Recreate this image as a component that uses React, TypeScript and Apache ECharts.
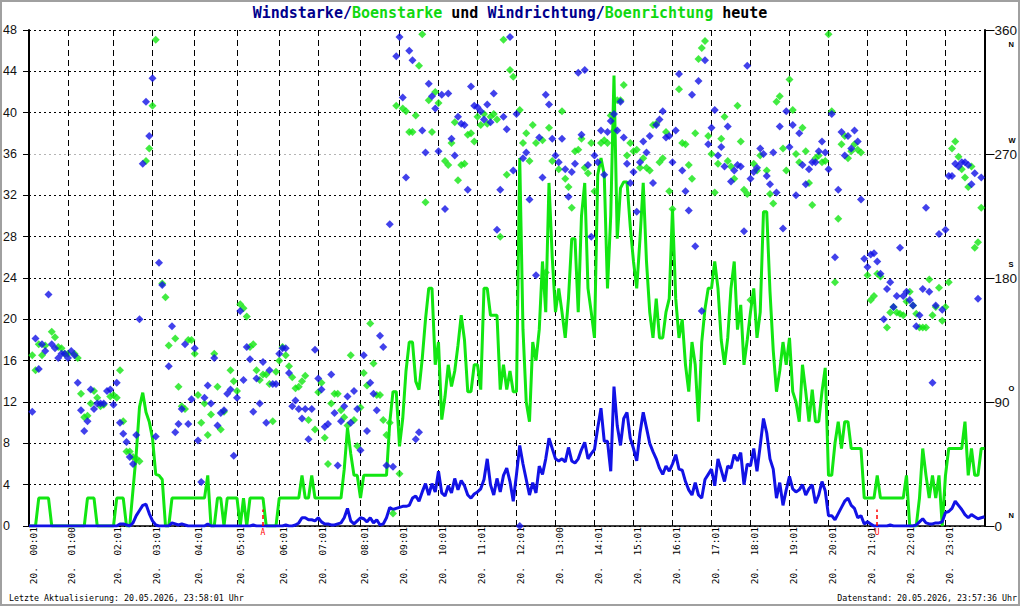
import React, { useEffect, useRef } from 'react';
import * as echarts from 'echarts';

// Sample positions (5-minute samples, index 0..294) where the hour labels sit
const hourIndex = [0, 12, 26, 38, 51, 64, 77, 89, 102, 114, 126, 138, 150, 162, 174, 186, 198, 210, 222, 234, 246, 258, 270, 282];
const hourLabels = [
  '20.  00:01', '20.  01:00', '20.  02:01', '20.  03:01', '20.  04:01', '20.  05:01', '20.  06:01', '20.  07:01',
  '20.  08:01', '20.  09:01', '20.  10:01', '20.  11:01', '20.  12:01', '20.  13:00', '20.  14:01', '20.  15:01',
  '20.  16:01', '20.  17:01', '20.  18:01', '20.  19:01', '20.  20:01', '20.  21:01', '20.  22:01', '20.  23:01',
];

// Windstärke (km/h), one value per sample
const wind = [
  0, 0, 0, 0, 0, 0, 0, 0, 0, 0,
  0, 0, 0, 0, 0, 0, 0, 0, 0, 0,
  0, 0, 0, 0, 0, 0, 0, 0, 0.2, 0.2,
  0.1, 0, 0.3, 1.0, 1.5, 2.0, 2.1, 1.2, 0.5, 0.1,
  0, 0, 0, 0, 0.3, 0.2, 0.1, 0.2, 0.1, 0,
  0, 0, 0, 0, 0, 0.2, 0, 0, 0, 0,
  0, 0, 0, 0, 0, 0, 0, 0, 0, 0.1,
  0, 0, 0, 0, 0, 0, 0, 0, 0, 0.1,
  0, 0, 0.1, 0.3, 0.8, 0.8, 0.6, 0.6, 0.5, 0.8,
  0.4, 0.2, 0.2, 0.1, 0.1, 0.2, 0.3, 0.8, 1.7, 0.5,
  0.2, 0.5, 0.8, 0.7, 0.4, 0.8, 0.3, 0.6, 0.1, 0.2,
  0.8, 1.8, 1.6, 1.7, 1.8, 1.9, 1.9, 2.0, 2.7, 2.9,
  2.4, 3.3, 4.1, 3.0, 4.1, 3.3, 5.3, 3.2, 2.9, 3.9,
  3.2, 4.6, 3.5, 4.4, 3.9, 3.0, 2.7, 3.1, 3.3, 3.6,
  4.5, 6.5, 4.0, 3.0, 4.6, 3.3, 4.9, 5.6, 4.3, 2.4,
  5.0, 7.8, 6.0, 4.5, 3.0, 4.2, 3.2, 5.8, 5.0, 6.5,
  8.5, 7.5, 6.5, 6.3, 6.5, 6.2, 7.6, 6.3, 6.1, 6.5,
  7.4, 8.1, 6.5, 7.0, 7.4, 9.5, 11.4, 8.2, 8.2, 5.3,
  13.5, 9.7, 7.8, 10.4, 11.0, 8.5, 7.5, 6.3, 9.0, 11.0,
  9.5, 8.0, 7.2, 6.5, 5.6, 5.0, 5.8, 5.3, 6.0, 6.9,
  5.5, 5.4, 4.3, 3.5, 3.0, 4.2, 3.0, 2.7, 4.5, 5.0,
  5.5, 3.9, 6.5, 5.4, 4.3, 5.8, 5.6, 6.9, 6.3, 7.1,
  4.0, 6.0, 5.8, 7.5, 5.3, 7.8, 10.4, 9.0, 6.5, 5.5,
  2.7, 4.2, 2.0, 3.5, 4.8, 3.6, 3.3, 3.5, 4.0, 3.0,
  3.6, 4.0, 2.2, 3.0, 4.3, 3.4, 1.0, 1.0, 0.6, 1.2,
  1.8, 2.4, 2.7, 2.0, 1.7, 0.8, 1.0, 0.2, 0.4, 0.2,
  0, 0, 0, 0, 0, 0.1, 0, 0, 0, 0,
  0, 0, 0, 0.1, 0.4, 0.7, 0.3, 0.2, 0.2, 0.3,
  0.3, 0.4, 1.3, 1.4, 1.7, 2.4, 2.0, 1.6, 1.1, 0.8,
  1.1, 0.9, 0.7, 0.8, 0.9,
];

// Böenstärke (km/h), one value per sample
const gust = [
  0, 0, 0, 2.7, 2.7, 2.7, 2.7, 0, 0, 0,
  0, 0, 0, 0, 0, 0, 0, 0, 2.7, 2.7,
  2.7, 0, 0, 0, 0, 0, 0, 2.7, 2.7, 2.7,
  0, 0, 3.5, 7, 11.5, 12.9, 11, 10.1, 8.5, 5,
  4.9, 4.5, 0, 0, 2.7, 2.7, 2.7, 2.7, 2.7, 2.7,
  2.7, 2.7, 2.7, 2.7, 2.7, 4.9, 0, 0, 2.7, 2.7,
  0, 2.7, 2.7, 2.7, 2.7, 0, 2.7, 0, 2.7, 2.7,
  2.7, 2.7, 2.7, 0, 0, 0, 0, 2.7, 2.7, 2.7,
  2.7, 2.7, 2.7, 2.7, 4.9, 2.7, 2.7, 4.9, 2.7, 2.7,
  2.7, 2.7, 2.7, 2.7, 2.7, 2.7, 2.7, 5.5, 9.5, 7,
  4.9, 4.9, 2.7, 4.9, 4.9, 4.9, 4.9, 4.9, 4.9, 4.9,
  4.9, 10, 13, 13, 7.7, 10.4, 15, 17.8, 17.8, 14,
  13.2, 16.2, 20, 23, 23, 15.6, 17.8, 10.3, 12.5, 15.6,
  13.5, 15, 17.5, 20.4, 18, 13, 13, 15.6, 15.6, 13.2,
  23, 23, 20.4, 20.4, 20.4, 13.2, 15.6, 13.2, 15, 13,
  13, 35.6, 19, 12, 10.1, 17.8, 16, 19, 25.6, 20.7,
  33.2, 26, 20.7, 23, 20.7, 18.2, 22, 27.8, 27.8, 20.7,
  30, 33.2, 23, 20.7, 18.2, 34, 35.6, 34, 23, 30,
  43.6, 27.8, 32.7, 33.3, 33.3, 29, 25.6, 23, 27.8, 33.2,
  25.6, 20.7, 18.2, 22, 18.2, 18.2, 20.7, 22, 30.7, 22,
  18.2, 20, 15.6, 13, 17.8, 15.6, 10.1, 17.8, 21, 23,
  23, 25.6, 23, 18, 15.6, 18.2, 23, 25.6, 19, 21.4,
  15.6, 18, 20.7, 23, 18.2, 20.7, 30.4, 30.4, 22.7, 17,
  13, 15, 17.8, 15.6, 18.2, 13, 12, 10.1, 15.6, 13,
  10.1, 13.2, 10.1, 10.1, 13, 15.3, 4.9, 4.9, 8, 10.1,
  7.5, 10.1, 10.1, 7.5, 7.5, 7.5, 7.5, 2.7, 2.7, 2.7,
  2.7, 4.9, 2.7, 2.7, 2.7, 2.7, 2.7, 2.7, 2.7, 2.7,
  4.9, 0, 0, 0, 2.7, 7.5, 4.9, 2.7, 4.9, 2.7,
  4.9, 0, 4.9, 7.5, 7.5, 7.5, 7.5, 7.5, 10.1, 4.9,
  7.5, 4.9, 4.9, 7.5, 7.5,
];

// Windrichtung: [sample index, degrees]
const windDir = [
  [1, 83], [2, 136], [3, 114], [4, 132], [5, 127], [6, 168], [7, 132], [8, 129], [9, 122], [10, 125], [11, 125], [12, 122], [13, 127], [14, 124], [15, 104], [16, 84], [17, 69], [18, 76], [19, 99], [20, 85], [21, 89], [22, 89], [23, 89], [24, 98], [25, 99], [26, 88], [27, 104], [28, 75], [29, 67], [30, 61], [31, 50], [32, 45], [33, 66], [34, 150], [35, 263], [36, 308], [37, 283], [38, 325], [39, 65], [40, 191], [41, 175], [43, 116], [44, 145], [45, 68], [46, 74], [47, 85], [48, 132], [49, 74], [50, 92],
  [51, 129], [52, 62], [53, 32], [54, 93], [55, 102], [56, 89], [57, 122], [58, 73], [59, 82], [60, 84], [61, 96], [62, 99], [63, 51], [64, 93], [65, 156], [66, 106], [67, 130], [68, 121], [69, 83], [70, 107], [71, 89], [72, 119], [73, 75], [74, 113], [75, 103], [76, 103], [77, 125], [78, 129], [79, 129], [80, 111], [81, 87], [82, 91], [83, 85], [84, 78], [85, 85], [86, 63], [87, 85], [88, 128], [89, 107], [90, 99], [91, 72], [92, 74], [93, 110], [94, 82], [95, 44], [96, 76], [97, 87], [98, 94], [99, 75],
  [100, 98], [101, 85], [102, 55], [103, 124], [104, 69], [105, 104], [106, 96], [107, 84], [108, 138], [109, 130], [110, 44], [111, 219], [112, 43], [113, 341], [114, 355], [115, 311], [116, 253], [117, 345], [118, 338], [119, 63], [120, 68], [121, 287], [122, 271], [123, 321], [124, 312], [125, 303], [126, 272], [127, 313], [128, 230], [129, 314], [130, 281], [131, 269], [132, 297], [133, 292], [134, 291], [135, 244], [136, 319], [137, 305], [138, 304], [139, 301], [140, 295], [141, 306], [142, 293], [143, 314], [144, 215], [145, 244], [146, 297], [147, 288], [148, 355],
  [149, 258], [150, 299], [151, 0], [152, 267], [153, 271], [154, 237], [156, 182], [157, 282], [158, 253], [159, 313], [160, 306], [161, 281], [162, 269], [163, 264], [164, 281], [165, 259], [166, 239], [167, 257], [168, 263], [169, 329], [170, 284], [171, 331], [172, 262], [173, 210], [174, 269], [175, 264], [176, 287], [177, 255], [178, 286], [179, 294], [180, 299], [181, 287], [182, 308], [183, 282], [184, 263], [185, 249], [186, 257], [187, 228], [188, 264], [189, 279], [190, 271], [191, 283], [192, 249], [193, 291], [194, 295], [195, 301], [196, 282],
  [197, 283], [198, 264], [199, 287], [200, 328], [201, 258], [202, 243], [203, 229], [204, 313], [205, 203], [206, 323], [207, 156], [208, 338], [209, 277], [210, 289], [211, 302], [212, 269], [213, 275], [214, 261], [215, 290], [216, 250], [217, 258], [218, 262], [219, 261], [220, 214], [221, 334], [222, 252], [223, 257], [224, 260], [225, 274], [226, 270], [227, 254], [228, 248], [229, 271], [230, 242], [231, 290], [232, 216], [233, 301], [234, 275], [235, 291], [236, 240], [237, 285], [238, 262], [239, 248], [240, 259], [241, 264], [242, 264], [243, 272], [244, 279], [245, 271], [246, 259],
  [247, 299], [248, 195], [249, 244], [250, 286], [251, 269], [252, 283], [253, 274], [254, 287], [255, 279], [256, 237], [257, 194], [258, 188], [259, 197], [260, 198], [261, 192], [262, 183], [263, 150], [264, 172], [265, 177], [266, 159], [267, 167], [268, 202], [269, 167], [270, 170], [271, 164], [272, 160], [273, 145], [274, 153], [275, 172], [276, 231], [277, 170], [278, 104], [279, 160], [280, 212], [281, 157], [282, 215], [283, 254], [284, 254], [285, 263], [286, 261], [287, 264], [288, 264], [289, 262], [290, 248], [291, 256], [292, 165], [293, 253],
];

// Böenrichtung: [sample index, degrees]
const gustDir = [
  [1, 124], [2, 113], [3, 132], [4, 124], [5, 131], [7, 141], [8, 137], [9, 130], [10, 129], [11, 125], [12, 125], [14, 125], [15, 122], [16, 96], [17, 79], [18, 80], [19, 89], [20, 98], [21, 93], [22, 87], [23, 88], [25, 94], [26, 95], [27, 93], [28, 113], [29, 76], [30, 54], [31, 54], [32, 50], [33, 49], [34, 47], [36, 265], [37, 274], [38, 305], [39, 353], [41, 176], [42, 166], [43, 131], [45, 136], [46, 101], [47, 87], [48, 85], [49, 135], [50, 135],
  [51, 125], [52, 95], [53, 75], [54, 89], [55, 66], [56, 81], [57, 125], [58, 101], [59, 70], [60, 83], [62, 113], [63, 105], [64, 98], [65, 161], [66, 158], [67, 152], [68, 130], [69, 132], [70, 113], [71, 106], [72, 110], [73, 110], [74, 103], [75, 76], [76, 112], [77, 120], [78, 130], [79, 124], [80, 116], [81, 108], [82, 100], [83, 101], [84, 105], [85, 109], [86, 77], [88, 70], [89, 97], [90, 104], [91, 64], [92, 45], [93, 89], [94, 96], [95, 96], [96, 84], [97, 79], [98, 73],
  [99, 124], [100, 77], [101, 58], [102, 86], [103, 111], [104, 102], [105, 147], [106, 118], [107, 95], [108, 95], [109, 77], [110, 66], [111, 75], [112, 9], [113, 305], [114, 38], [115, 303], [116, 301], [117, 286], [118, 286], [119, 298], [120, 334], [121, 357], [122, 235], [123, 309], [124, 286], [125, 315], [126, 307], [128, 265], [129, 262], [130, 278], [131, 293], [132, 251], [133, 262], [134, 263], [135, 284], [136, 285], [137, 279], [138, 297], [139, 291], [140, 299], [141, 292], [142, 297], [143, 299], [144, 295], [145, 210], [146, 353], [147, 255], [148, 331],
  [149, 326], [151, 302], [152, 278], [153, 285], [154, 265], [155, 291], [156, 278], [158, 280], [159, 184], [160, 289], [161, 265], [163, 259], [164, 301], [165, 252], [166, 246], [167, 231], [168, 272], [169, 273], [170, 281], [171, 260], [172, 256], [173, 278], [174, 243], [176, 278], [177, 280], [178, 278], [179, 298], [180, 287], [181, 309], [182, 309], [183, 320], [184, 269], [185, 278], [186, 272], [187, 273], [188, 260], [189, 267], [190, 260], [191, 258], [192, 291], [193, 292], [194, 264], [195, 267], [196, 286], [197, 243],
  [198, 230], [200, 317], [201, 278], [202, 277], [203, 262], [204, 252], [205, 285], [206, 339], [207, 347], [208, 352], [209, 283], [210, 270], [211, 242], [212, 263], [213, 281], [214, 297], [215, 265], [216, 261], [217, 252], [218, 305], [219, 279], [220, 244], [221, 241], [222, 164], [223, 263], [224, 258], [225, 269], [227, 258], [228, 241], [229, 234], [230, 308], [231, 312], [232, 274], [233, 258], [234, 324], [235, 302], [236, 270], [237, 264], [238, 289], [239, 272], [240, 249], [241, 233], [242, 267], [243, 269], [244, 264], [245, 265], [246, 357],
  [247, 301], [248, 177], [249, 223], [250, 277], [251, 283], [252, 267], [253, 272], [254, 277], [255, 273], [256, 271], [258, 182], [259, 164], [260, 167], [261, 183], [262, 181], [264, 144], [265, 155], [266, 159], [267, 155], [268, 154], [269, 153], [270, 163], [271, 170], [272, 160], [273, 154], [274, 144], [275, 144], [276, 144], [277, 179], [278, 153], [279, 159], [280, 173], [281, 149], [282, 159], [283, 177], [284, 274], [285, 279], [286, 268], [287, 259], [288, 253], [289, 246], [290, 261], [291, 202], [292, 206], [293, 231],
];

// Sonnenaufgang (A) and Sonnenuntergang (U) markers
const sunMarks = [
  { index: 72, label: 'A' },
  { index: 261, label: 'U' },
];

const compassLetters: Record<number, string> = { 0: 'N', 90: 'O', 180: 'S', 270: 'W', 360: 'N' };

const BLUE = '#1212e6';
const GREEN = '#12e612';
const MONO = '"DejaVu Sans Mono", "Liberation Mono", monospace';
const SANS = '"Liberation Sans", Arial, sans-serif';

function buildOption() {
  const categories = wind.map((_, i) => String(i));
  const hourSet = new Set(hourIndex);
  const labelAt = new Map(hourIndex.map((idx, k) => [idx, hourLabels[k]]));
  const isHour = (i: number) => hourSet.has(i);

  // split line colours for the left axis, 0..48 step 4 (the 36 line is grey)
  const hLineColors = [0, 4, 8, 12, 16, 20, 24, 28, 32, 36, 40, 44, 48].map((v) => (v === 36 ? '#b4b4b4' : '#000'));

  return {
    animation: false,
    backgroundColor: '#fff',
    title: [
      {
        text: '{b|Windstarke/}{g|Boenstarke}{k| und }{b|Windrichtung/}{g|Boenrichtung}{k| heute}',
        left: 'center',
        top: 0,
        textStyle: {
          fontFamily: MONO,
          fontSize: 15,
          rich: {
            b: { color: '#00008c', fontFamily: MONO, fontSize: 15 },
            g: { color: '#10d810', fontFamily: MONO, fontSize: 15 },
            k: { color: '#000', fontFamily: MONO, fontSize: 15 },
          },
        },
      },
      {
        text: 'Letzte Aktualisierung: 20.05.2026, 23:58:01 Uhr',
        left: 4,
        top: 589,
        textStyle: { fontFamily: MONO, fontSize: 8.3, fontWeight: 'normal', color: '#000' },
      },
      {
        text: 'Datenstand: 20.05.2026, 23:57:36 Uhr',
        right: -2,
        top: 589,
        textStyle: { fontFamily: MONO, fontSize: 8.3, fontWeight: 'normal', color: '#000' },
      },
    ],
    grid: { left: 29, right: 35, top: 30, bottom: 80, containLabel: false },
    xAxis: {
      type: 'category',
      data: categories,
      boundaryGap: false,
      axisLine: { lineStyle: { color: '#000', width: 1.5 } },
      axisTick: { show: false },
      axisLabel: {
        interval: (i: number) => isHour(i),
        formatter: (_v: string, i: number) => labelAt.get(i) ?? '',
        rotate: 90,
        margin: 1,
        fontFamily: MONO,
        fontSize: 9.5,
        color: '#000',
        verticalAlign: 'top',
        lineHeight: 8,
      },
      splitLine: {
        show: true,
        interval: (i: number) => isHour(i),
        lineStyle: { color: '#000', type: [6, 4], width: 1 },
      },
    },
    yAxis: [
      {
        type: 'value',
        min: 0,
        max: 48,
        interval: 4,
        position: 'left',
        axisLine: { show: true, lineStyle: { color: '#000', width: 2 } },
        axisTick: { show: true, length: 6, lineStyle: { color: '#000' } },
        axisLabel: { margin: 26, align: 'left', fontFamily: SANS, fontSize: 12.5, color: '#111' },
        splitLine: { show: true, lineStyle: { color: hLineColors, type: [2, 3], width: 1 } },
      },
      {
        type: 'value',
        min: 0,
        max: 360,
        interval: 90,
        position: 'right',
        axisLine: { show: true, lineStyle: { color: '#000', width: 2 } },
        axisTick: { show: true, length: 10, lineStyle: { color: '#000' } },
        axisLabel: { margin: 10, fontFamily: SANS, fontSize: 13.5, color: '#111' },
        splitLine: { show: false },
      },
      {
        // compass letters next to the direction scale
        type: 'value',
        min: 0,
        max: 360,
        interval: 90,
        position: 'right',
        axisLine: { show: false },
        axisTick: { show: false },
        splitLine: { show: false },
        axisLabel: {
          margin: 24,
          formatter: (v: number) => (v === 360 ? `{dn|${compassLetters[v]}}` : v === 0 ? `{up0|${compassLetters[v]}}` : `{up|${compassLetters[v]}}`),
          rich: {
            up: { fontFamily: SANS, fontSize: 7.5, fontWeight: 'bold', color: '#000', padding: [0, 0, 28, 0] },
            up0: { fontFamily: SANS, fontSize: 7.5, fontWeight: 'bold', color: '#000', padding: [0, 0, 21, 0] },
            dn: { fontFamily: SANS, fontSize: 7.5, fontWeight: 'bold', color: '#000', padding: [28, 0, 0, 0] },
          },
        },
      },
    ],
    graphic: [
      {
        type: 'rect',
        silent: true,
        z: 100,
        shape: { x: 1, y: 1, width: 1018, height: 604 },
        style: { fill: 'none', stroke: '#a0a0a0', lineWidth: 2 },
      },
    ],
    series: [
      {
        name: 'Boenstarke',
        type: 'line',
        data: gust,
        yAxisIndex: 0,
        showSymbol: false,
        symbol: 'none',
        lineStyle: { color: GREEN, width: 3 },
        itemStyle: { color: GREEN },
        z: 2,
      },
      {
        name: 'Windstarke',
        type: 'line',
        data: wind,
        yAxisIndex: 0,
        showSymbol: false,
        symbol: 'none',
        lineStyle: { color: BLUE, width: 3 },
        itemStyle: { color: BLUE },
        z: 3,
        markLine: {
          silent: true,
          symbol: ['none', 'none'],
          lineStyle: { color: '#ff0000', type: [4, 3], width: 1.5 },
          label: {
            show: true,
            position: 'start',
            distance: 2,
            formatter: (p: any) => p.name,
            color: '#ff0000',
            fontFamily: MONO,
            fontSize: 8,
          },
          data: sunMarks.map((m) => [
            { coord: [m.index, 0], name: m.label },
            { coord: [m.index, 1.6] },
          ]),
        },
      },
      {
        name: 'Boenrichtung',
        type: 'scatter',
        data: gustDir,
        yAxisIndex: 1,
        symbol: 'diamond',
        symbolSize: 8,
        itemStyle: { color: GREEN },
        z: 4,
      },
      {
        name: 'Windrichtung',
        type: 'scatter',
        data: windDir,
        yAxisIndex: 1,
        symbol: 'diamond',
        symbolSize: 8,
        itemStyle: { color: BLUE },
        z: 5,
      },
    ],
  };
}

export default function App() {
  const ref = useRef<HTMLDivElement>(null);

  useEffect(() => {
    if (!ref.current) return;
    const chart = echarts.init(ref.current, null, { renderer: 'svg' });
    chart.setOption(buildOption() as any);
    return () => chart.dispose();
  }, []);

  return (
    <div
      ref={ref}
      style={{ position: 'fixed', left: 0, top: 0, width: 1020, height: 606, background: '#fff' }}
    />
  );
}
